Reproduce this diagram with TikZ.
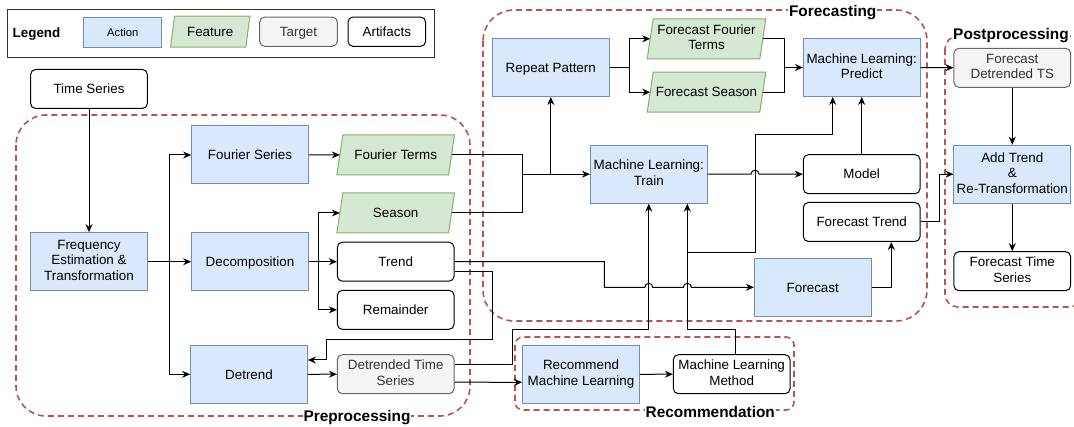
\documentclass[tikz,border=0pt]{standalone}
\usepackage{fontspec}
\setmainfont{Liberation Sans}
\usetikzlibrary{arrows.meta,calc,backgrounds}
\definecolor{actfill}{HTML}{DAE8FC}
\definecolor{actdraw}{HTML}{6C8EBF}
\definecolor{featfill}{HTML}{D5E8D4}
\definecolor{featdraw}{HTML}{82B366}
\definecolor{tgtfill}{HTML}{F5F5F5}
\definecolor{tgtdraw}{HTML}{666666}
\definecolor{tgttext}{HTML}{333333}
\definecolor{grpdraw}{HTML}{B85450}
\newcommand\mystrut{\rule[-0.216em]{0pt}{1.146em}}
\tikzset{
 base/.style={inner sep=1pt, align=center, font=\fontsize{13.4}{15.5}\selectfont, line width=1pt,
   execute at begin node=\mystrut, execute at end node=\mystrut},
 act/.style={base, draw=actdraw, fill=actfill, minimum width=116.7, minimum height=58},
 art/.style={base, draw=black, fill=white, rounded corners=5, minimum width=116.7, minimum height=39},
 tgt/.style={art, draw=tgtdraw, fill=tgtfill, text=tgttext},
 feat/.style={base, minimum width=110.7, minimum height=39},
 featbox/.style={draw=featdraw, fill=featfill, line width=1pt},
 grp/.style={draw=grpdraw, dash pattern=on 6pt off 4pt, line width=1.6pt},
 grplabel/.style={fill=white, inner sep=1pt, font=\fontsize{15.4}{17}\selectfont\bfseries,
   execute at begin node=\mystrut, execute at end node=\mystrut},
 arr/.style={-{Stealth[length=8pt,width=7pt]}, line width=1pt},
 ln/.style={line width=1pt},
}
\begin{document}
\begin{tikzpicture}[x=1pt,y=-1pt]
\useasboundingbox (0,0) rectangle (1074,427);
\clip (0,0) rectangle (1074,427);

% groups
\draw[grp, rounded corners=30] (16,115) rectangle (470,416);
\draw[grp, rounded corners=31] (483,10) rectangle (927,321);
\draw[grp, rounded corners=8] (515,337) rectangle (794,410);
\draw[grp, rounded corners=13] (945,36) rectangle (1082,307);

% legend
\draw[black!80, line width=1pt] (7,9.3) rectangle (434.7,58);
\node[base, font=\fontsize{13.4}{15}\selectfont\bfseries] (leg) at (36.5,33) {Legend};
\node[act, minimum width=78.3, minimum height=30, font=\fontsize{11.2}{13}\selectfont] (lact) at (122.8,32.7) {Action};
\node[feat, minimum width=74.3, minimum height=30] (lfeat) at (210.2,31.7) {Feature};
\node[tgt, minimum width=77.6, minimum height=29.3] (ltgt) at (298.5,31.7) {Target};
\node[art, minimum width=77.6, minimum height=29.3] (lart) at (386.8,31.7) {Artifacts};

% preprocessing
\node[art] (ts) at (89,89) {Time Series};
\node[act] (fe) at (89,261.7) {Frequency\\Estimation \&\\Transformation};
\node[act] (fs) at (250,155) {Fourier Series};
\node[act] (dec) at (250,261.7) {Decomposition};
\node[act] (det) at (249,374.3) {Detrend};
\node[feat] (ft) at (395.7,154.8) {Fourier Terms};
\node[feat] (sea) at (395.7,213) {Season};
\node[art] (tr) at (395.7,261.7) {Trend};
\node[art] (rem) at (395.7,309.8) {Remainder};
\node[tgt] (dts) at (395.7,374.2) {Detrended Time\\Series};

% forecasting
\node[act] (rp) at (550.8,67.5) {Repeat Pattern};
\node[feat, minimum width=111.6] (fft) at (706.5,38.8) {Forecast Fourier\\Terms};
\node[feat, minimum width=111.6] (fse) at (706.5,92.2) {Forecast Season};
\node[act] (mlp) at (861.7,67.5) {Machine Learning:\\Predict};
\node[act] (mlt) at (648.8,174.2) {Machine Learning:\\Train};
\node[art] (mod) at (861.7,174.2) {Model};
\node[art] (ftr) at (861.7,222) {Forecast Trend};
\node[act] (fc) at (812.8,287.3) {Forecast};

% recommendation
\node[act] (rml) at (581,374.3) {Recommend\\Machine Learning};
\node[art] (mlm) at (731.7,374.2) {Machine Learning\\Method};

% postprocessing
\node[tgt] (fdts) at (1012.3,67.8) {Forecast\\Detrended TS};
\node[act] (atr) at (1012.3,174.2) {Add Trend\\\&\\Re-Transformation};
\node[art] (fts) at (1012.3,271.2) {Forecast Time\\Series};

% group labels
\node[grplabel] (lpre) at (357,416) {Preprocessing};
\node[grplabel] (lfor) at (832.7,11) {Forecasting};
\node[grplabel] (lrec) at (710.3,412) {Recommendation};
\node[grplabel] (lpost) at (1011,34.5) {Postprocessing};

% parallelograms
\begin{scope}[on background layer]
\foreach \n in {ft,sea,fft,fse}
  \draw[featbox] ([xshift=3pt]\n.north west) -- ([xshift=3pt]\n.north east) -- ([xshift=-3pt]\n.south east) -- ([xshift=-3pt]\n.south west) -- cycle;
\draw[featbox] ([xshift=2pt]lfeat.north west) -- ([xshift=2pt]lfeat.north east) -- ([xshift=-2pt]lfeat.south east) -- ([xshift=-2pt]lfeat.south west) -- cycle;
\end{scope}

% connectors: preprocessing
\draw[arr] (ts) -- (fe);
\draw[arr] (fe) -- (dec);
\draw[arr] (169,261.7) |- (fs.west);
\draw[arr] (169,261.7) |- (det.west);
\draw[arr] (fs) -- (ft);
\draw[arr] (dec) -- (tr);
\draw[arr] (318,261.7) |- (sea.west);
\draw[arr] (318,261.7) |- (rem.west);
\draw[arr] (det) -- (dts);
\draw[arr] ($(tr.east)+(0,10)$) -- (492.7,271.7) -- (492.7,339.3) -- (326.7,339.3) -- (326.7,360) -- ($(det.east)+(0,-14.3)$);

% trend to forecast
\draw[arr] (tr.east) -- (604.3,261.7) -- (604.3,287.3) -- (644.8,287.3) arc[start angle=180,end angle=360,radius=4] -- (683.3,287.3) arc[start angle=180,end angle=360,radius=4] -- (fc.west);

% features to train
\draw[ln] (ft.east) -| (522,174.2);
\draw[ln] (sea.east) -| (522,174.2);
\draw[arr] (522,174.2) -- (mlt.west);
\draw[arr] (550.8,174.2) -- (rp.south);

% detrended TS
\draw[arr] ($(dts.east)+(0,-10)$) -- (512,364.2) -- (512,329.3) -- (648.8,329.3) -- (mlt.south);
\draw[arr] ($(dts.east)+(0,8)$) -- ($(rml.west)+(0,8)$);
\draw[arr] (rml) -- (mlm);
\draw[arr] ($(mlm.north)+(4,0)$) |- (687.3,330) -- ($(mlt.south)+(38.5,0)$);
\draw[arr] (687.3,252.3) -- (755,252.3) -- (755,135) -- (832.7,135) -- ($(mlp.south)+(-29,0)$);

% forecasting
\draw[arr] (mlt.east) -- (751,174.2) arc[start angle=180,end angle=360,radius=4] -- (mod.west);
\draw[arr] (mod) -- (mlp);
\draw[ln] (rp.east) -- (629,67.5);
\draw[arr] (629,67.5) |- (fft.west);
\draw[arr] (629,67.5) |- (fse.west);
\draw[ln] (fft.east) -| (784.3,67.5);
\draw[ln] (fse.east) -| (784.3,67.5);
\draw[arr] (784.3,67.5) -- (mlp.west);
\draw[arr] (fc.east) -| ($(ftr.south)+(29.6,0)$);

% postprocessing
\draw[arr] (mlp) -- (fdts);
\draw[arr] (ftr.east) -- (939.3,222) |- (atr.west);
\draw[arr] (fdts) -- (atr);
\draw[arr] (atr) -- (fts);
\end{tikzpicture}
\end{document}
